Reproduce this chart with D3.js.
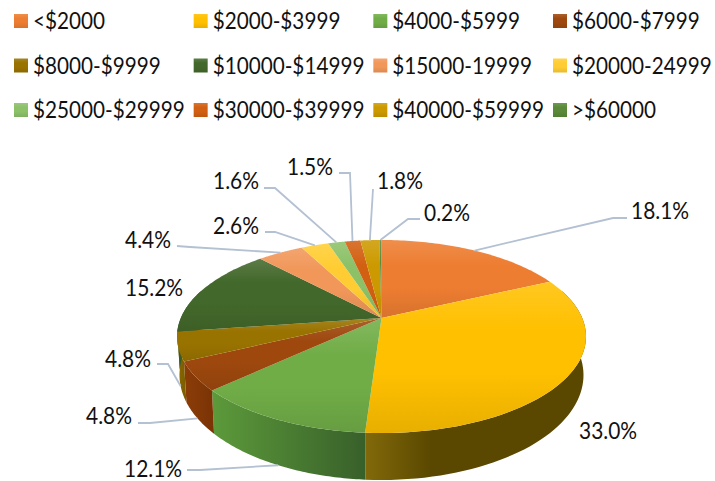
<!DOCTYPE html>
<html><head><meta charset="utf-8">
<script src="https://cdn.jsdelivr.net/npm/d3@7/dist/d3.min.js"></script>
<style>html,body{margin:0;padding:0;background:#fff}svg{display:block}text{font-family:Lato,"Open Sans",sans-serif;fill:#111}</style>
</head><body>
<script>
const categories = ["<$2000","$2000-$3999","$4000-$5999","$6000-$7999","$8000-$9999","$10000-$14999","$15000-19999","$20000-24999","$25000-$29999","$30000-$39999","$40000-$59999",">$60000"];
const shares = [18.1,33.0,12.1,4.8,4.8,15.2,4.4,2.6,1.6,1.5,1.8,0.2];
const colors = ["#ED7D31","#FFC000","#70AD47","#9E480E","#997300","#43682B","#F1975A","#FFCD33","#8CC168","#D26012","#CC9A00","#5A8A39"];
const wallLeft = ["#8a4a1c","#82690a","#5c9a3a","#8c3d08","#8a6800","#3c5c26","#a06a40","#a08020","#6a9450","#954510","#8f6d00","#406428"];
const wallRight = ["#8a4a1c","#5a4800","#38602a","#7a3305","#7a5c00","#3c5c26","#a06a40","#a08020","#6a9450","#954510","#8f6d00","#406428"];
const labelPos = [[631,211],[579,431],[124,469],[86,416],[105,359],[125,288],[125,240],[213,226],[213,181],[287,167],[377,181],[424,213]];
const elbowPos = [[[627,218],[613,218]],null,[[187,470],[200,470]],[[138,423],[150,423]],[[157,364],[168,364]],null,[[177,246],[190,247]],[[265,232],[275,232]],[[264,188],[275,188]],[[339,173],[350,173]],[[373,189],null],[[420,219],[408,219]]];
const onWall = [false,false,true,true,true,false,false,false,false,false,false,false];

const W=715,H=481;
const svg=d3.select("body").append("svg").attr("width",W).attr("height",H);
const defs=svg.append("defs");

const K=0.1917, CX=381.5;
const topDisc={rx:204.5,near:115,apexY:318};
const botDisc={rx:202,near:125,apexY:355};
function project(angle,d){
  const u=Math.sin(angle), v=-Math.cos(angle), w=1-K*v;
  const a=d.rx*Math.sqrt(1-K*K), b=d.near*(1-K);
  return [CX+a*u/w, d.apexY+b*v/w];
}
const arcs=d3.pie().sort(null).value(d=>d)(shares);
const samples=a=>d3.range(0,61).map(i=>a.startAngle+(a.endAngle-a.startAngle)*i/60);
const line=d3.line();
const mix=(c,t,f)=>d3.interpolateRgb(c,t)(f);

colors.forEach((c,i)=>{
  const g=defs.append("linearGradient").attr("id","face"+i).attr("x1",0).attr("y1",0).attr("x2",0).attr("y2",1);
  g.append("stop").attr("offset",0).attr("stop-color",mix(c,"#fff",0.13));
  g.append("stop").attr("offset",0.32).attr("stop-color",c);
  g.append("stop").attr("offset",0.6).attr("stop-color",c);
  g.append("stop").attr("offset",1).attr("stop-color",mix(c,"#000",0.09));
  const w=defs.append("linearGradient").attr("id","wall"+i).attr("x1",0).attr("y1",0).attr("x2",1).attr("y2",0);
  w.append("stop").attr("offset",0).attr("stop-color",wallLeft[i]);
  w.append("stop").attr("offset",i===1?0.3:1).attr("stop-color",wallRight[i]);
  if(i===1) w.append("stop").attr("offset",1).attr("stop-color",wallRight[i]);
});

svg.append("g").selectAll("path").data(arcs).join("path")
  .attr("d",a=>{
    const s=samples(a).map(t=>Math.max(Math.PI*0.4,Math.min(Math.PI*1.6,t)));
    return line(s.map(t=>project(t,topDisc)).concat(s.slice().reverse().map(t=>project(t,botDisc))))+"Z";
  })
  .attr("fill",a=>`url(#wall${a.index})`);

svg.append("g").selectAll("path").data(arcs).join("path")
  .attr("d",a=>line([[CX,topDisc.apexY]].concat(samples(a).map(t=>project(t,topDisc))))+"Z")
  .attr("fill",a=>`url(#face${a.index})`);

const leaderG=svg.append("g").attr("fill","none").attr("stroke","#b3c1d3").attr("stroke-width",1.8);
arcs.forEach((a,i)=>{
  if(!elbowPos[i]) return;
  const mid=(a.startAngle+a.endAngle)/2;
  const end=project(mid,onWall[i]?botDisc:topDisc);
  const pts=elbowPos[i].filter(Boolean).concat([end]);
  leaderG.append("path").attr("d",line(pts));
});

svg.append("g").selectAll("text").data(arcs).join("text")
  .attr("transform",a=>`translate(${labelPos[a.index][0]},${labelPos[a.index][1]}) scale(0.91,1)`)
  .attr("dy","0.35em").attr("font-size",23)
  .text(a=>a.value.toFixed(1)+"%");

const colX=d3.scalePoint().domain([0,1,2,3]).range([14,553]);
const rowY=d3.scalePoint().domain([0,1,2]).range([21,110]);
const leg=svg.append("g").selectAll("g").data(categories).join("g")
  .attr("transform",(d,i)=>`translate(${colX(i%4)},${rowY(Math.floor(i/4))})`);
leg.append("rect").attr("x",0).attr("y",-7).attr("width",14).attr("height",14).attr("fill",(d,i)=>`url(#face${i})`);
leg.append("text").attr("transform","translate(19,0) scale(0.9,1)").attr("dy","0.35em").attr("font-size",23).text(d=>d);
</script>
</body></html>
